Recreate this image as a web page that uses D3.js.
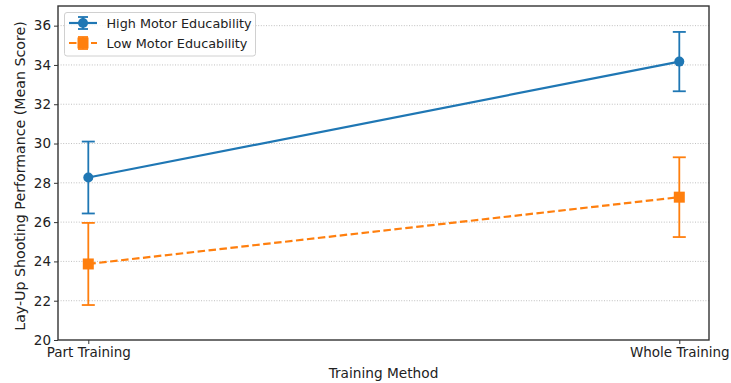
<!DOCTYPE html>
<html>
<head>
<meta charset="utf-8">
<script src="https://cdn.jsdelivr.net/npm/d3@7"></script>
<style>
  html, body { margin: 0; padding: 0; background: #fff; }
  svg { display: block; font-family: "DejaVu Sans", sans-serif; }
</style>
</head>
<body>
<svg id="chart" width="731" height="383"></svg>
<script>
// Training methods on the x axis
const categories = ["Part Training", "Whole Training"];
// Mean lay-up shooting scores and their error-bar half-widths
const highMeans = [28.27, 34.17];
const highErr = [1.83, 1.51];
const lowMeans = [23.87, 27.27];
const lowErr = [2.09, 2.03];
const yTicks = [20, 22, 24, 26, 28, 30, 32, 34, 36];

const series = [
  { name: "High Motor Educability", means: highMeans, err: highErr, color: "#1f77b4", marker: "circle", dash: null },
  { name: "Low Motor Educability", means: lowMeans, err: lowErr, color: "#ff7f0e", marker: "square", dash: "7.5,3.5" }
];

const svg = d3.select("#chart");
const margin = { left: 58, right: 22, top: 6, bottom: 43 };
const W = 731, H = 383;

const x = d3.scalePoint().domain(categories).range([88.3, 679.3]);
const y = d3.scaleLinear().domain([20, 37]).range([H - margin.bottom, margin.top]);
const x0 = margin.left, x1 = W - margin.right;

// Horizontal dotted grid
svg.append("g").selectAll("line").data(yTicks.filter(t => t > 20)).join("line")
  .attr("x1", x0).attr("x2", x1)
  .attr("y1", d => y(d)).attr("y2", d => y(d))
  .attr("stroke", "#b0b0b0").attr("stroke-width", 0.8)
  .attr("stroke-dasharray", "1,1.6");

// Axes
const fs = 13.5;
const yAxis = svg.append("g").attr("transform", `translate(${x0},0)`)
  .call(d3.axisLeft(y).tickValues(yTicks).tickSize(4).tickPadding(3).tickFormat(d3.format("d")));
const xAxis = svg.append("g").attr("transform", `translate(0,${y(20)})`)
  .call(d3.axisBottom(x).tickSize(4).tickPadding(3));
[xAxis, yAxis].forEach(g => {
  g.select(".domain").remove();
  g.selectAll("line").attr("stroke", "#333").attr("stroke-width", 1);
  g.selectAll("text").attr("fill", "#222").style("font-size", fs + "px")
    .style("font-family", "'DejaVu Sans', sans-serif");
});

// Frame
svg.append("rect").attr("x", x0).attr("y", margin.top)
  .attr("width", x1 - x0).attr("height", y(20) - margin.top)
  .attr("fill", "none").attr("stroke", "#333").attr("stroke-width", 1.4);

// Axis titles
svg.append("text").attr("x", (x0 + x1) / 2).attr("y", 378)
  .attr("text-anchor", "middle").attr("fill", "#222").style("font-size", "13.7px")
  .text("Training Method");
svg.append("text")
  .attr("transform", `translate(20.5,176) rotate(-90)`)
  .attr("text-anchor", "middle").attr("dominant-baseline", "middle")
  .attr("fill", "#222").style("font-size", "14.2px")
  .text("Lay-Up Shooting Performance (Mean Score)");

function drawMarker(g, type, cx, cy, color) {
  if (type === "circle") {
    g.append("circle").attr("cx", cx).attr("cy", cy).attr("r", 5).attr("fill", color);
  } else {
    g.append("rect").attr("x", cx - 5.5).attr("y", cy - 5.5).attr("width", 11).attr("height", 11).attr("fill", color);
  }
}

const line = d3.line().x((d, i) => x(categories[i])).y(d => y(d));

series.forEach(s => {
  const g = svg.append("g");
  // Error bars with caps
  s.means.forEach((m, i) => {
    const cx = x(categories[i]);
    const top = y(m + s.err[i]), bot = y(m - s.err[i]);
    g.append("line").attr("x1", cx).attr("x2", cx).attr("y1", top).attr("y2", bot)
      .attr("stroke", s.color).attr("stroke-width", 1.8);
    [top, bot].forEach(yy => g.append("line").attr("x1", cx - 6.5).attr("x2", cx + 6.5)
      .attr("y1", yy).attr("y2", yy).attr("stroke", s.color).attr("stroke-width", 1.8));
  });
  // Connecting line
  g.append("path").datum(s.means).attr("d", line)
    .attr("fill", "none").attr("stroke", s.color).attr("stroke-width", 2.2)
    .attr("stroke-dasharray", s.dash);
  s.means.forEach((m, i) => drawMarker(g, s.marker, x(categories[i]), y(m), s.color));
});

// Legend
const leg = svg.append("g");
leg.append("rect").attr("x", 64.5).attr("y", 12.5).attr("width", 191).attr("height", 43.5)
  .attr("rx", 2.5).attr("fill", "#fff").attr("fill-opacity", 0.8)
  .attr("stroke", "#d0d0d0").attr("stroke-width", 1);
series.forEach((s, i) => {
  const cy = 23 + i * 20;
  const g = leg.append("g");
  g.append("line").attr("x1", 69).attr("x2", 97).attr("y1", cy).attr("y2", cy)
    .attr("stroke", s.color).attr("stroke-width", 2.2).attr("stroke-dasharray", s.dash);
  g.append("line").attr("x1", 83).attr("x2", 83).attr("y1", cy - 6).attr("y2", cy + 6)
    .attr("stroke", s.color).attr("stroke-width", 1.8);
  [cy - 6, cy + 6].forEach(yy => g.append("line").attr("x1", 78).attr("x2", 88)
    .attr("y1", yy).attr("y2", yy).attr("stroke", s.color).attr("stroke-width", 1.8));
  drawMarker(g, s.marker, 83, cy, s.color);
  g.append("text").attr("x", 106.5).attr("y", cy).attr("dominant-baseline", "central")
    .attr("fill", "#222").style("font-size", "12.8px").text(s.name);
});
</script>
</body>
</html>
